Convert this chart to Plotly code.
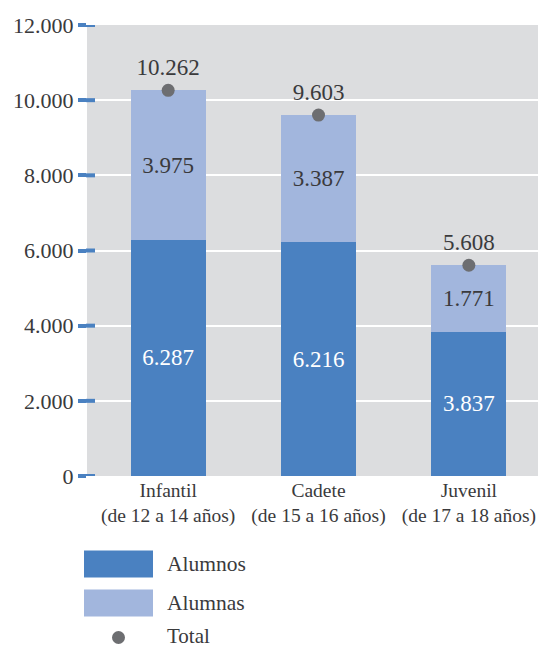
import plotly.graph_objects as go

categories = ["Infantil<br>(de 12 a 14 años)", "Cadete<br>(de 15 a 16 años)", "Juvenil<br>(de 17 a 18 años)"]
alumnos = [6287, 6216, 3837]
alumnas = [3975, 3387, 1771]
total = [10262, 9603, 5608]
y_ticks = [0, 2000, 4000, 6000, 8000, 10000, 12000]
y_tick_labels = ["0", "2.000", "4.000", "6.000", "8.000", "10.000", "12.000"]


def fmt(v):
    return f"{v:,}".replace(",", ".")


dark_blue = "#4A81C1"
light_blue = "#A2B6DD"
dot_grey = "#6D6E71"
text_col = "#3A3A3C"
FONT = "Liberation Serif"

W, H = 538, 648
L, R, T, B = 87, 0, 25, 172

fig = go.Figure()

fig.add_trace(go.Bar(
    x=categories, y=alumnos, name="Alumnos",
    marker=dict(color=dark_blue, line=dict(width=0)),
    text=[fmt(v) for v in alumnos], textposition="inside", insidetextanchor="middle",
    textfont=dict(color="white", size=23, family=FONT),
))
fig.add_trace(go.Bar(
    x=categories, y=alumnas, name="Alumnas",
    marker=dict(color=light_blue, line=dict(width=0)),
    text=[fmt(v) for v in alumnas], textposition="inside", insidetextanchor="middle",
    textfont=dict(color=text_col, size=23, family=FONT),
))
fig.add_trace(go.Scatter(
    x=categories, y=total, name="Total", mode="markers+text",
    marker=dict(color=dot_grey, size=13),
    text=[fmt(v) for v in total], textposition="top center",
    textfont=dict(color=text_col, size=23, family=FONT),
))

fig.update_layout(
    width=W, height=H,
    margin=dict(l=L, r=R, t=T, b=B, autoexpand=False),
    barmode="stack",
    bargap=0.5,
    plot_bgcolor="#DCDDDF",
    paper_bgcolor="white",
    showlegend=False,
    font=dict(family=FONT, color=text_col),
    xaxis=dict(
        range=[-0.54, 2.46], showgrid=False, zeroline=False, showline=False,
        tickfont=dict(size=19.5, color=text_col), ticks="", automargin=False,
    ),
    yaxis=dict(
        range=[0, 12000], tickvals=y_ticks, ticktext=y_tick_labels,
        showgrid=True, gridcolor="white", gridwidth=1.5, zeroline=False, showline=False,
        ticks="outside", ticklen=8, tickwidth=4, tickcolor=dark_blue,
        tickfont=dict(size=22, color=text_col), automargin=False,
    ),
)


def px_x(p):
    return (p - L) / (W - L - R)


def px_y(p):
    return (H - B - p) / (H - B - T)


# the tick marks straddle the plot edge: draw the inner half on top
for v in y_ticks:
    fig.add_shape(type="line", xref="paper", yref="y", x0=px_x(86), x1=px_x(95),
                  y0=v, y1=v, line=dict(color=dark_blue, width=4), layer="above")

# legend drawn by hand so the swatches can be as large as in the reference
legend_items = [("Alumnos", dark_blue, 564), ("Alumnas", light_blue, 603)]
for name, col, cy in legend_items:
    fig.add_shape(type="rect", xref="paper", yref="paper",
                  x0=px_x(84), x1=px_x(153), y0=px_y(cy - 13.5), y1=px_y(cy + 13.5),
                  fillcolor=col, line=dict(width=0))
    fig.add_annotation(xref="paper", yref="paper", x=px_x(165), y=px_y(cy),
                       text=name, showarrow=False, xanchor="left", yanchor="middle",
                       font=dict(size=21.5, color=text_col, family=FONT))

fig.add_shape(type="circle", xref="paper", yref="paper",
              x0=px_x(112), x1=px_x(125), y0=px_y(631), y1=px_y(644),
              fillcolor=dot_grey, line=dict(width=0))
fig.add_annotation(xref="paper", yref="paper", x=px_x(165), y=px_y(636),
                   text="Total", showarrow=False, xanchor="left", yanchor="middle",
                   font=dict(size=21, color=text_col, family=FONT))

# drop the default body margin so the 538x648 figure fits the window exactly
fig.write_html(
    "out.html",
    config={"displayModeBar": False},
    post_script="document.body.style.margin='0';document.body.style.overflow='hidden';",
)
